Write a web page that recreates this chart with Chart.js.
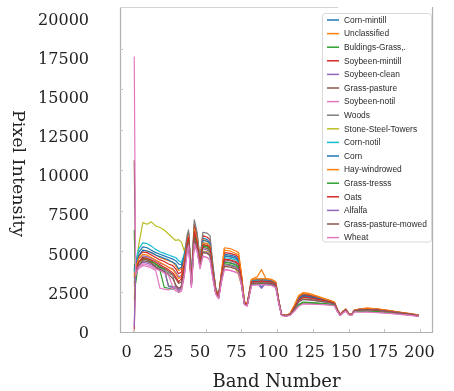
<!DOCTYPE html>
<html><head><meta charset="utf-8">
<script src="https://cdn.jsdelivr.net/npm/chart.js@4.4.0/dist/chart.umd.min.js"></script>
<style>html,body{margin:0;padding:0;background:#fff;}canvas{display:block;}</style>
</head><body>
<canvas id="c" width="454" height="391"></canvas>
<script>
// ---------------- data ----------------
const BANDS = [0,1,3,6,9,12,15,18,21,24,27,29,31,33,
  35,37,38,40,42,44,46,
  48,51,53,55,57,59,61,
  63,67,71,73,75,77,79,
  82,86,89,92,96,99,101,
  103,106,109,112,115,118,
  122,127,132,137,140,
  142,144,146,148,150,152,154,
  158,163,170,178,186,193,199];

const X_TICK_LABELS = [0,25,50,75,100,125,150,175,200];
const Y_TICK_LABELS = [0,2500,5000,7500,10000,12500,15000,17500,20000];

const CORN_MINTILL = [3800,4300,4900,5250,5200,5050,4900,4800,4700,4600,4500,4400,4200,4150,
  4700,5600,6000,3300,6450,5750,4350,
  5800,5700,5550,4000,2650,2250,3500,
  4800,4750,4650,4500,3400,1850,1700,
  3150,3230,2750,3200,3150,3000,1950,
  1080,1010,1100,1550,2080,2270,
  2230,2130,2010,1890,1800,
  1380,1060,1260,1390,1130,1070,1330,
  1400,1450,1400,1300,1200,1110,1030];
const UNCLASSIFIED = [3500,4000,4600,5050,5000,4900,4750,4600,4500,4400,4300,4100,3800,3900,
  4600,5700,6100,3400,6550,5800,4400,
  5700,5600,5450,3900,2600,2200,3700,
  5200,5150,5000,4900,3600,1900,1750,
  3250,3400,3850,3300,3250,3100,2000,
  1100,1030,1150,1650,2250,2430,
  2380,2250,2100,1950,1850,
  1420,1080,1280,1420,1150,1080,1350,
  1430,1480,1430,1330,1220,1130,1050];
const BULDINGS_GRASS = [4200,3900,4300,4550,4450,4300,4000,3800,2750,2700,2650,2700,2500,2600,
  3600,5200,5600,3000,5850,5300,4150,
  5400,5300,5150,3600,2450,2150,3300,
  4200,4150,4050,3900,3000,1750,1650,
  2950,2980,3000,2970,2930,2800,1850,
  1050,990,1060,1350,1700,1850,
  1830,1800,1770,1730,1680,
  1300,1030,1200,1320,1090,1040,1270,
  1280,1300,1270,1200,1130,1060,990];
const SOYBEEN_MINTILL = [4000,4200,4700,4950,4900,4750,4600,4450,4350,4200,4100,3900,3600,3700,
  4600,5800,6150,3200,6650,5950,4450,
  5950,5850,5700,4000,2650,2250,3600,
  4900,4850,4750,4600,3500,1850,1700,
  3150,3200,3250,3200,3150,3000,1950,
  1080,1010,1100,1550,2100,2300,
  2260,2150,2030,1900,1810,
  1380,1060,1260,1390,1130,1070,1330,
  1390,1420,1380,1290,1190,1100,1020];
const SOYBEEN_CLEAN = [3600,4000,4500,4700,4650,4550,4400,4250,4150,4000,3900,3700,3400,3500,
  4300,5400,5700,3100,5950,5350,4200,
  5150,5050,4900,3600,2500,2150,3300,
  4350,4300,4200,4050,3100,1800,1680,
  3050,3080,3100,3080,3050,2900,1900,
  1060,1000,1080,1480,1950,2120,
  2090,2010,1930,1840,1760,
  1360,1050,1240,1370,1120,1060,1310,
  1370,1390,1350,1270,1180,1090,1010];
const GRASS_PASTURE = [3300,3900,4300,4500,4450,4350,4200,4050,3900,3750,3550,3300,3000,3100,
  4100,5500,5850,3000,6100,5500,4250,
  5250,5150,5000,3700,2550,2200,3450,
  4450,4400,4300,4150,3200,1820,1700,
  3100,3150,3180,3150,3100,2950,1950,
  1080,1020,1110,1600,2180,2350,
  2300,2180,2050,1920,1820,
  1390,1070,1270,1400,1140,1070,1340,
  1410,1450,1410,1310,1210,1120,1040];
const SOYBEEN_NOTIL = [2800,3600,3900,4100,4050,3950,3800,2700,2650,2600,2700,2550,2450,2500,
  3400,4900,5300,2800,5400,4950,3900,
  4700,4600,4450,3300,2350,2050,3100,
  3850,3800,3700,3600,2900,1700,1600,
  2900,2920,2950,2920,2880,2750,1800,
  1030,980,1040,1300,1620,1760,
  1750,1730,1710,1680,1640,
  1280,1020,1180,1300,1080,1030,1250,
  1250,1260,1230,1170,1100,1040,970];
const WOODS = [3000,3700,4100,4400,4350,4250,4100,3950,3800,3650,3500,2800,2450,2900,
  4800,6000,6300,3500,6930,6150,4500,
  6150,6100,5950,4200,2700,2250,3600,
  4700,4650,4550,4400,3300,1820,1700,
  3100,3120,3150,3100,3080,2950,1900,
  1070,1010,1090,1520,2030,2200,
  2160,2070,1970,1870,1780,
  1370,1060,1250,1380,1130,1060,1320,
  1380,1400,1370,1280,1190,1100,1020];
const STONE_STEEL_TOWERS = [2000,3400,5300,6750,6650,6800,6550,6450,6300,6050,5800,5650,5700,5550,
  5000,5500,5800,3300,5900,5300,4150,
  5000,4950,4800,3500,2450,2150,3300,
  4150,4100,3900,3500,2900,1780,1680,
  3000,3000,3020,3000,2980,2850,1880,
  1060,1000,1070,1450,1900,2050,
  2020,1960,1890,1820,1740,
  1340,1040,1230,1350,1110,1050,1300,
  1330,1350,1320,1240,1160,1080,1000];
const CORN_NOTIL = [3700,4400,5100,5500,5450,5300,5100,4950,4850,4750,4650,4600,4400,4300,
  4800,5600,5950,3400,6300,5650,4350,
  5500,5450,5300,3850,2600,2200,3500,
  4600,4550,4450,4300,3300,1830,1700,
  3150,3180,3200,3180,3130,2980,1930,
  1070,1010,1090,1500,2000,2180,
  2140,2060,1960,1860,1780,
  1370,1060,1250,1380,1130,1060,1320,
  1390,1420,1380,1290,1190,1100,1020];
const CORN = [3900,4200,4700,5050,5000,4900,4750,4650,4550,4450,4300,4200,3900,4000,
  4700,5650,6000,3300,6250,5600,4300,
  5650,5600,5450,3900,2600,2200,3500,
  4700,4650,4550,4400,3350,1850,1700,
  3200,3250,3250,3230,3200,3050,1950,
  1080,1010,1100,1530,2050,2230,
  2190,2100,1990,1880,1790,
  1380,1060,1260,1390,1130,1070,1330,
  1400,1430,1390,1300,1200,1110,1030];
const HAY_WINDROWED = [3400,3900,4500,4800,4750,4600,4450,4300,4150,4000,3850,3600,3300,3400,
  4400,5600,5950,3200,6350,5650,4300,
  5500,5450,5300,3800,2600,2200,3600,
  5050,5000,4850,4750,3500,1880,1730,
  3250,3280,3300,3280,3230,3080,1980,
  1090,1030,1130,1630,2220,2400,
  2350,2220,2080,1930,1840,
  1410,1080,1280,1410,1150,1080,1350,
  1420,1470,1420,1320,1220,1130,1050];
const GRASS_TRESSS = [6300,3000,4300,4600,4550,4400,4200,4000,3900,2850,2800,2750,2600,2700,
  3800,5300,5700,3000,6000,5400,4200,
  5300,5250,5100,3600,2450,2150,3300,
  4300,4250,4150,4000,3050,1760,1660,
  2960,2990,3010,2980,2950,2820,1860,
  1050,990,1060,1330,1660,1800,
  1790,1770,1740,1710,1660,
  1290,1030,1200,1310,1090,1040,1270,
  1280,1290,1260,1190,1120,1050,980];
const OATS = [0,3800,4300,4600,4550,4450,4300,4150,4000,3850,3650,3400,3100,3300,
  4200,5500,5850,3100,6200,5550,4250,
  5400,5350,5200,3750,2550,2200,3450,
  4500,4450,4350,4200,3250,1820,1700,
  3100,3130,3150,3130,3100,2950,1920,
  1070,1010,1090,1500,1980,2150,
  2120,2040,1950,1860,1770,
  1370,1060,1250,1380,1120,1060,1320,
  1380,1400,1360,1280,1190,1100,1020];
const ALFALFA = [300,3700,4100,4300,4250,4150,4000,3900,3800,2800,2750,2800,2600,2700,
  3700,5100,5500,2900,5700,5150,4050,
  4950,4900,4750,3450,2400,2100,3250,
  4150,4100,4000,3850,3000,1750,1650,
  3000,3000,2700,3000,2970,2830,1870,
  1050,1000,1070,1420,1850,2000,
  1980,1930,1870,1800,1730,
  1340,1040,1230,1350,1100,1050,1300,
  1350,1370,1340,1260,1170,1090,1000];
const GRASS_PASTURE_MOWED = [10600,3600,4100,4400,4350,4250,4000,3850,3700,3550,3300,2900,2700,2800,
  3900,5200,5550,2900,5750,5200,4100,
  4900,4850,4700,3450,2400,2100,3250,
  4050,4000,3900,3750,2950,1740,1640,
  3000,3020,3040,3020,2990,2850,1880,
  1050,1000,1070,1430,1870,2020,
  2000,1940,1880,1810,1740,
  1340,1040,1230,1350,1100,1050,1300,
  1360,1380,1340,1260,1170,1090,1000];
const WHEAT = [17000,3500,4000,4200,4150,4050,3900,3800,3650,3500,2800,2700,2500,2600,
  3500,4950,5350,2750,5450,5000,3950,
  4650,4600,4450,3300,2350,2050,3100,
  3850,3800,3700,3600,2900,1700,1600,
  2880,2900,2930,2900,2870,2740,1800,
  1020,970,1030,1280,1590,1730,
  1720,1710,1690,1660,1620,
  1270,1010,1170,1290,1070,1020,1240,
  1220,1230,1200,1150,1090,1030,960];

const SERIES_NAMES = ['Corn-mintill','Unclassified','Buldings-Grass,.','Soybeen-mintill','Soybeen-clean',
  'Grass-pasture','Soybeen-notil','Woods','Stone-Steel-Towers','Corn-notil','Corn','Hay-windrowed',
  'Grass-tresss','Oats','Alfalfa','Grass-pasture-mowed','Wheat'];
const SERIES_VALUES = [CORN_MINTILL,UNCLASSIFIED,BULDINGS_GRASS,SOYBEEN_MINTILL,SOYBEEN_CLEAN,
  GRASS_PASTURE,SOYBEEN_NOTIL,WOODS,STONE_STEEL_TOWERS,CORN_NOTIL,CORN,HAY_WINDROWED,
  GRASS_TRESSS,OATS,ALFALFA,GRASS_PASTURE_MOWED,WHEAT];

// ---------------- style ----------------
const COLORS = ['#1f77b4','#ff7f0e','#2ca02c','#d62728','#9467bd','#8c564b','#e377c2','#7f7f7f','#bcbd22','#17becf',
  '#1f77b4','#ff7f0e','#2ca02c','#d62728','#9467bd','#8c564b','#e377c2'];
const SERIF = "'DejaVu Serif', serif";
const TXT = '#222222';

const datasets = SERIES_VALUES.map((vals, i) => ({
  label: SERIES_NAMES[i],
  data: vals.map((v, j) => ({x: BANDS[j], y: v})),
  borderColor: COLORS[i],
  backgroundColor: COLORS[i],
  borderWidth: 1.2,
  pointRadius: 0,
  tension: 0,
  borderJoinStyle: 'round',
  fill: false,
  order: -i,
  xAxisID: 'x',
  yAxisID: 'y'
}));

const framePlugin = {
  id: 'frame',
  afterDatasetsDraw(chart) {
    const {ctx, chartArea: a, scales} = chart;
    ctx.save();
    ctx.strokeStyle = '#b0b0b0';
    ctx.lineWidth = 1.2;
    ctx.beginPath();
    ctx.moveTo(a.left + 0.5, a.top - 1); ctx.lineTo(a.left + 0.5, a.bottom + 1);
    ctx.moveTo(a.left, a.bottom + 0.5); ctx.lineTo(a.right, a.bottom + 0.5);
    ctx.moveTo(a.right - 0.5, a.top - 1); ctx.lineTo(a.right - 0.5, a.bottom + 1);
    ctx.stroke();
    ctx.strokeStyle = '#d4d4d4';
    ctx.beginPath();
    ctx.moveTo(a.left, a.top - 0.5); ctx.lineTo(a.left + 218, a.top - 0.5);
    ctx.stroke();
    // inner tick marks of the data axes
    ctx.strokeStyle = '#c4c4c4';
    ctx.lineWidth = 1;
    ctx.beginPath();
    X_TICK_LABELS.forEach(v => {
      const px = Math.round(scales.x.getPixelForValue(v)) + 0.5;
      ctx.moveTo(px, a.bottom); ctx.lineTo(px, a.bottom - 3);
    });
    Y_TICK_LABELS.slice(1, -1).forEach(v => {
      const py = Math.round(scales.y.getPixelForValue(v)) + 0.5;
      ctx.moveTo(a.left, py); ctx.lineTo(a.left + 3, py);
    });
    ctx.stroke();
    ctx.restore();
  }
};

const legendPlugin = {
  id: 'insideLegend',
  afterDraw(chart) {
    const {ctx, chartArea: a} = chart;
    const bx = a.left + 202, by = a.top + 5, bw = 109, bh = 228.5;
    ctx.save();
    ctx.fillStyle = 'rgba(255,255,255,0.8)';
    ctx.strokeStyle = '#d8d8d8';
    ctx.lineWidth = 1;
    ctx.beginPath();
    ctx.roundRect(bx + 0.5, by + 0.5, bw, bh, 3);
    ctx.fill();
    ctx.stroke();
    ctx.font = "8.4px 'Liberation Sans', Arial, sans-serif";
    ctx.textBaseline = 'middle';
    ctx.textAlign = 'left';
    SERIES_NAMES.forEach((name, i) => {
      const y = by + 7 + i * 13.6;
      ctx.strokeStyle = COLORS[i];
      ctx.lineWidth = 1.5;
      ctx.beginPath();
      ctx.moveTo(bx + 5, y); ctx.lineTo(bx + 17, y);
      ctx.stroke();
      ctx.fillStyle = '#2a2a2a';
      ctx.fillText(name, bx + 22, y + 0.5);
    });
    ctx.restore();
  }
};

const yTitlePlugin = {
  id: 'yTitle',
  afterDraw(chart) {
    const {ctx} = chart;
    ctx.save();
    ctx.translate(18, 173.5);
    ctx.rotate(Math.PI / 2);
    ctx.font = "17.5px " + SERIF;
    ctx.fillStyle = TXT;
    ctx.textAlign = 'center';
    ctx.textBaseline = 'middle';
    ctx.fillText('Pixel Intensity', 0, 0);
    ctx.restore();
  }
};

new Chart(document.getElementById('c'), {
  type: 'line',
  data: {datasets},
  options: {
    responsive: false,
    devicePixelRatio: 1,
    animation: false,
    events: [],
    layout: {padding: {top: 8, right: 21, left: 0, bottom: 0}, autoPadding: false},
    plugins: {legend: {display: false}, tooltip: {enabled: false}},
    scales: {
      x: {type: 'linear', display: false, min: -9.95, max: 208.95},
      y: {type: 'linear', display: false, min: 0, max: 20000},
      x2: {
        type: 'linear', position: 'bottom', min: -4.58, max: 209.2,
        afterBuildTicks: s => { s.ticks = X_TICK_LABELS.map(v => ({value: v})); },
        afterFit: s => { s.height = 59; s.paddingLeft = 0; s.paddingRight = 0; s.paddingTop = 0; s.paddingBottom = 0; },
        grid: {display: false}, border: {display: false},
        ticks: {autoSkip: false, maxRotation: 0, padding: 3, color: TXT,
          font: {family: SERIF, size: 16}, callback: v => String(v)},
        title: {display: true, text: 'Band Number', color: TXT,
          font: {family: SERIF, size: 18, lineHeight: 1.0}, padding: {top: 0, bottom: 0}}
      },
      y2: {
        type: 'linear', position: 'left', min: 120, max: 20790,
        afterBuildTicks: s => { s.ticks = Y_TICK_LABELS.map(v => ({value: v})); },
        afterFit: s => { s.width = 120; s.paddingLeft = 0; s.paddingRight = 0; s.paddingTop = 0; s.paddingBottom = 0; },
        grid: {display: false}, border: {display: false},
        ticks: {autoSkip: false, padding: 23, color: TXT,
          font: {family: SERIF, size: 16}, callback: v => String(v)}
      }
    }
  },
  plugins: [framePlugin, legendPlugin, yTitlePlugin]
});
</script>
</body></html>
